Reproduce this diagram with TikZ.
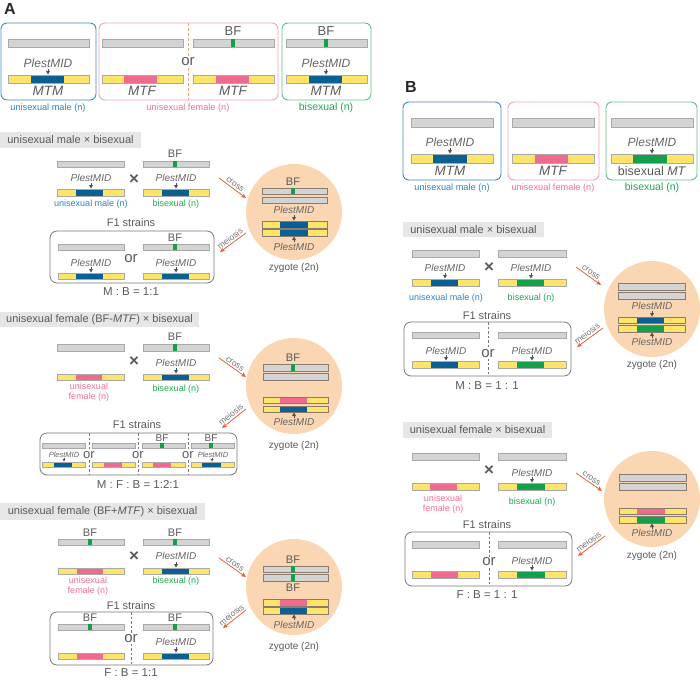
\documentclass[tikz,border=0pt]{standalone}
\usepackage{fontspec}
\setmainfont{Liberation Sans}
\usetikzlibrary{arrows.meta}
\definecolor{cblue}{HTML}{0B5F93}
\definecolor{cbluebox}{HTML}{3A8DC0}
\definecolor{cbluetxt}{HTML}{2D83BF}
\definecolor{cpink}{HTML}{EF6A8D}
\definecolor{cpinkbox}{HTML}{F5A0B5}
\definecolor{cpinktxt}{HTML}{F07094}
\definecolor{cgreen}{HTML}{12A14A}
\definecolor{cgreenbox}{HTML}{5DC081}
\definecolor{cgreentxt}{HTML}{1FA84F}
\definecolor{cyellow}{HTML}{FDE46A}
\definecolor{cgraybar}{HTML}{D4D4D4}
\definecolor{cgrayline}{HTML}{A9A9A9}
\definecolor{czyg}{HTML}{8A7B6E}
\definecolor{ctext}{HTML}{5A5A5A}
\definecolor{cpl}{HTML}{666666}
\definecolor{cmark}{HTML}{505050}
\definecolor{chead}{HTML}{E6E6E6}
\definecolor{cpeach}{HTML}{FBD6B2}
\definecolor{carrow}{HTML}{E8603A}
\definecolor{corange}{HTML}{F2A283}
\definecolor{cbox}{HTML}{777777}
\def\bl{cgrayline}
\newcommand\mGB[4]{\draw[fill=cgraybar, draw=\bl, line width=0.5pt] (#1,#3) rectangle (#2,#4);}
\newcommand\mGBF[5]{\mGB{#1}{#2}{#3}{#4}\fill[cgreen] (#5-1.8,#3+0.3) rectangle (#5+1.8,#4-0.3);}
\newcommand\mYB[7]{\fill[cyellow] (#1,#3) rectangle (#2,#4); \fill[#7] (#5,#3) rectangle (#6,#4); \draw[draw=\bl, line width=0.5pt] (#1,#3) rectangle (#2,#4);}
\newcommand\mTD[2]{\fill[cmark] (#1-2,#2-3.6) -- (#1+2,#2-3.6) -- (#1,#2) -- cycle; \draw[cmark, line width=0.4pt] (#1,#2-5.5) -- (#1,#2-3.4);}
\newcommand\mTDs[2]{\fill[cmark] (#1-1.4,#2-2.6) -- (#1+1.4,#2-2.6) -- (#1,#2) -- cycle; \draw[cmark, line width=0.35pt] (#1,#2-4) -- (#1,#2-2.4);}
\newcommand\mTU[2]{\fill[cmark] (#1-2,#2+3.6) -- (#1+2,#2+3.6) -- (#1,#2) -- cycle; \draw[cmark, line width=0.4pt] (#1,#2+5.5) -- (#1,#2+3.4);}
\begin{document}
\begin{tikzpicture}[x=1pt,y=-1pt,
  fs/.style={font=\fontsize{#1}{#1}\selectfont, inner sep=0pt, text=ctext},
  fstwo/.style={font=\fontsize{9}{10}\selectfont, inner sep=0pt, align=center, text=cpinktxt},
  it/.style={font=\fontsize{#1}{#1}\selectfont\itshape, inner sep=0pt, text=cpl},
  outbox/.style={rounded corners=6pt, line width=0.9pt},
  f1box/.style={draw=cbox, rounded corners=7pt, line width=0.8pt},
  sepline/.style={draw=cbox, dash pattern=on 2.5pt off 2pt, line width=0.6pt},
  arr/.style={draw=carrow, line width=0.8pt, -{Stealth[length=5pt,width=4.5pt]}},
  alab/.style={font=\fontsize{8.5}{8.5}\selectfont, text=ctext!85, inner sep=1.5pt, sloped, above},
  ornode/.style={font=\fontsize{#1}{#1}\selectfont, text=ctext, fill=white, inner sep=1pt},
  xnode/.style={font=\fontsize{17}{17}\selectfont\bfseries, text=ctext, inner sep=0pt},
  panel/.style={font=\fontsize{16}{16}\selectfont\bfseries, text=black!85, inner sep=0pt}
]
\useasboundingbox (0,0) rectangle (700,679);

% ================= PANEL A =================
\node[panel] (lA) at (10,9) {A};
% top boxes
\draw[outbox, draw=cbluebox] (1,23) rectangle (96,100);
\draw[outbox, draw=cpinkbox] (99,23) rectangle (278,100);
\draw[outbox, draw=cgreenbox] (282,23) rectangle (371,100);
\draw[draw=corange, dash pattern=on 3pt off 2pt, line width=0.8pt] (188,23) -- (188,100);
% blue box
\mGB{8}{89}{39}{47}
\node[it=12] (tApl1) at (48,63) {PlestMID}; \mTD{48}{74.6}
\mYB{8}{89}{75}{83}{31}{64}{cblue}
\node[it=13.5, text=ctext] (tAm1) at (48,91) {MTM};
\node[fs=9.2, text=cbluetxt] (tAl1) at (48,108) {unisexual male (n)};
% pink box
\mGB{102}{183}{39}{47}
\mGBF{193}{274}{39}{47}{233}
\node[fs=13] (tAbf1) at (233,31) {BF};
\node[ornode=15] (tAor) at (188,62) {or};
\mYB{102}{183}{75}{83}{124}{157}{cpink}
\mYB{193}{274}{75}{83}{216}{249}{cpink}
\node[it=13.5, text=ctext] (tAf1) at (142,91) {MTF};
\node[it=13.5, text=ctext] (tAf2) at (233,91) {MTF};
\node[fs=9.2, text=cpinktxt] (tAl2) at (188,108) {unisexual female (n)};
% green box
\mGBF{286}{367}{39}{47}{326}
\node[fs=13] (tAbf2) at (326,31) {BF};
\node[it=12] (tApl2) at (326,63) {PlestMID}; \mTD{326}{74.6}
\mYB{286}{367}{75}{83}{309}{342}{cblue}
\node[it=13.5, text=ctext] (tAm2) at (326,91) {MTM};
\node[fs=10.5, text=cgreentxt] (tAl3) at (326,108) {bisexual (n)};

% ---------- A1: unisexual male x bisexual ----------
\fill[chead] (0,132) rectangle (141,148);
\node[fs=11] (a1h) at (70.5,140) {unisexual male × bisexual};
\mGB{57}{124}{161}{167}
\mGBF{143}{209}{161}{167}{175}
\node[fs=11] (a1bf) at (175,154) {BF};
\node[xnode] (a1x) at (134,180) {×};
\node[it=10] (a1p1) at (91,178) {PlestMID}; \mTD{91}{188.6}
\node[it=10] (a1p2) at (176,178) {PlestMID}; \mTD{176}{188.6}
\mYB{57}{124}{189}{196}{76}{103}{cblue}
\mYB{143}{209}{189}{196}{162}{189}{cblue}
\node[fs=9, text=cbluetxt] (a1l1) at (91,204) {unisexual male (n)};
\node[fs=9, text=cgreentxt] (a1l2) at (176,204) {bisexual (n)};
\coordinate (a1c1) at (219,178); \coordinate (a1c2) at (246,198);
\draw[arr] (a1c1) -- node[alab] {cross} (a1c2);
\fill[cpeach] (294,212) circle (48);
\begin{scope}\def\bl{czyg}
\node[fs=11] (a1zbf) at (293,182) {BF};
\mGBF{262}{327}{188}{194}{293}
\mGB{262}{327}{197}{203}
\node[it=10] (a1zp1) at (294,210) {PlestMID}; \mTD{294}{220.6}
\mYB{262}{327}{221}{228}{280}{308}{cblue}
\mYB{262}{327}{229}{236}{280}{308}{cblue}
\mTU{294}{236.4}
\node[it=10] (a1zp2) at (294,247) {PlestMID};
\end{scope}
\node[fs=10] (a1z) at (294,268) {zygote (2n)};
\coordinate (a1m1) at (246,233); \coordinate (a1m2) at (220,252);
\draw[arr] (a1m1) -- node[alab] {meiosis} (a1m2);
\node[fs=11] (a1f1) at (131,223) {F1 strains};
\draw[f1box] (50,231) rectangle (214,283);
\mGB{58}{124}{244}{250}
\mGBF{143}{209}{244}{250}{175}
\node[fs=11] (a1fbf) at (175,238) {BF};
\node[ornode=15] (a1or) at (131,259) {or};
\node[it=10] (a1fp1) at (91,263) {PlestMID}; \mTD{91}{272.6}
\node[it=10] (a1fp2) at (176,263) {PlestMID}; \mTD{176}{272.6}
\mYB{58}{124}{273}{279}{76}{103}{cblue}
\mYB{143}{209}{273}{279}{162}{189}{cblue}
\node[fs=11.5] (a1r) at (131,292) {M : B = 1:1};

% ---------- A2: unisexual female (BF-MTF) x bisexual ----------
\fill[chead] (0,312) rectangle (199,327);
\node[fs=11] (a2h) at (99.5,319.5) {unisexual female (BF-\textit{MTF}) × bisexual};
\mGB{57}{124}{344}{351}
\mGBF{143}{209}{344}{351}{175}
\node[fs=11] (a2bf) at (175,337) {BF};
\node[xnode] (a2x) at (134,362) {×};
\node[it=10] (a2p2) at (176,363) {PlestMID}; \mTD{176}{373.6}
\mYB{57}{124}{374}{380}{76}{102}{cpink}
\mYB{143}{209}{374}{380}{162}{189}{cblue}
\node[fstwo] (a2l1) at (89,392) {unisexual\\female (n)};
\node[fs=9, text=cgreentxt] (a2l2) at (176,389) {bisexual (n)};
\coordinate (a2c1) at (219,358); \coordinate (a2c2) at (246,377);
\draw[arr] (a2c1) -- node[alab] {cross} (a2c2);
\fill[cpeach] (294,386) circle (48);
\begin{scope}\def\bl{czyg}
\node[fs=11] (a2zbf) at (293,358) {BF};
\mGBF{263}{328}{364}{371}{293}
\mGB{263}{328}{373}{380}
\mYB{263}{328}{397}{403}{280}{307}{cpink}
\mYB{263}{328}{406}{412}{280}{307}{cblue}
\mTU{294}{412.4}
\node[it=10] (a2zp) at (294,422) {PlestMID};
\end{scope}
\node[fs=10] (a2z) at (294,446) {zygote (2n)};
\coordinate (a2m1) at (246,409); \coordinate (a2m2) at (222,428);
\draw[arr] (a2m1) -- node[alab] {meiosis} (a2m2);
\node[fs=11] (a2f1) at (137,425) {F1 strains};
\draw[f1box] (40,433) rectangle (237,475);
\draw[sepline] (89,433) -- (89,475);
\draw[sepline] (138,433) -- (138,475);
\draw[sepline] (188,433) -- (188,475);
\mGB{42}{85}{443}{448}
\node[it=7.5] (a2c1p) at (64,455) {PlestMID}; \mTDs{64}{461.6}
\mYB{42}{85}{462}{467}{54}{72}{cblue}
\mGB{92}{135}{443}{448}
\mYB{92}{135}{462}{467}{104}{122}{cpink}
\mGBF{142}{185}{443}{448}{162}
\node[fs=10] (a2c3bf) at (162,438) {BF};
\mYB{142}{185}{462}{467}{153}{171}{cpink}
\mGBF{191}{234}{443}{448}{211}
\node[fs=10] (a2c4bf) at (211,438) {BF};
\node[it=7.5] (a2c4p) at (213,455) {PlestMID}; \mTDs{212}{461.6}
\mYB{191}{234}{462}{467}{202}{221}{cblue}
\node[ornode=13] (a2or1) at (89,455) {or};
\node[ornode=13] (a2or2) at (138,455) {or};
\node[ornode=13] (a2or3) at (188,455) {or};
\node[fs=11.5] (a2r) at (138,484) {M : F : B = 1:2:1};

% ---------- A3: unisexual female (BF+MTF) x bisexual ----------
\fill[chead] (0,503) rectangle (205,520);
\node[fs=11] (a3h) at (102.5,511.5) {unisexual female (BF+\textit{MTF}) × bisexual};
\mGBF{58}{124}{539}{545}{90}
\node[fs=11] (a3bf1) at (90,533) {BF};
\mGBF{143}{209}{539}{545}{175}
\node[fs=11] (a3bf2) at (175,533) {BF};
\node[xnode] (a3x) at (134,557) {×};
\node[it=10] (a3p2) at (176,556) {PlestMID}; \mTD{176}{567.6}
\mYB{58}{124}{568}{574}{77}{103}{cpink}
\mYB{143}{209}{568}{574}{162}{189}{cblue}
\node[fstwo] (a3l1) at (88,586) {unisexual\\female (n)};
\node[fs=9, text=cgreentxt] (a3l2) at (176,581) {bisexual (n)};
\coordinate (a3c1) at (219,558); \coordinate (a3c2) at (246,577);
\draw[arr] (a3c1) -- node[alab] {cross} (a3c2);
\fill[cpeach] (294,587) circle (48);
\begin{scope}\def\bl{czyg}
\node[fs=11] (a3zbf1) at (293,560) {BF};
\mGBF{263}{328}{566}{572}{293}
\mGBF{263}{328}{574}{581}{293}
\node[fs=11] (a3zbf2) at (293,588) {BF};
\mYB{263}{328}{599}{606}{280}{307}{cpink}
\mYB{263}{328}{607}{614}{280}{307}{cblue}
\mTU{294}{614.4}
\node[it=10] (a3zp) at (294,625) {PlestMID};
\end{scope}
\node[fs=10] (a3z) at (294,647) {zygote (2n)};
\coordinate (a3m1) at (246,610); \coordinate (a3m2) at (223,628);
\draw[arr] (a3m1) -- node[alab] {meiosis} (a3m2);
\node[fs=11] (a3f1) at (131,606) {F1 strains};
\draw[f1box] (50,612) rectangle (213,665);
\draw[sepline] (131,612) -- (131,665);
\node[fs=11] (a3fbf1) at (90,618) {BF};
\mGBF{58}{124}{624}{630}{90}
\mYB{58}{124}{653}{659}{77}{103}{cpink}
\node[fs=11] (a3fbf2) at (175,618) {BF};
\mGBF{143}{209}{624}{630}{175}
\node[it=10] (a3fp) at (176,642) {PlestMID}; \mTD{176}{652.6}
\mYB{143}{209}{653}{659}{162}{189}{cblue}
\node[ornode=15] (a3or) at (131,639) {or};
\node[fs=11.5] (a3r) at (131,673) {F : B = 1:1};

% ================= PANEL B =================
\node[panel] (lB) at (411,87) {B};
\draw[outbox, draw=cbluebox] (403,102) rectangle (501,180);
\draw[outbox, draw=cpinkbox] (508,102) rectangle (599,180);
\draw[outbox, draw=cgreenbox] (606,102) rectangle (697,180);
\mGB{411}{493}{118}{127}
\mGB{512}{594}{118}{127}
\mGB{611}{693}{118}{127}
\node[it=12] (tBpl1) at (450,142) {PlestMID}; \mTD{450}{153.6}
\node[it=12] (tBpl2) at (652,142) {PlestMID}; \mTD{652}{153.6}
\mYB{411}{493}{154}{163}{433}{467}{cblue}
\mYB{512}{594}{154}{163}{535}{568}{cpink}
\mYB{611}{693}{154}{163}{633}{667}{cgreen}
\node[it=13.5, text=ctext] (tBm) at (450,171) {MTM};
\node[it=13.5, text=ctext] (tBf) at (553,171) {MTF};
\node[fs=12.5] (tBb) at (652,171) {bisexual \textit{MT}};
\node[fs=9.2, text=cbluetxt] (tBl1) at (452,188) {unisexual male (n)};
\node[fs=9.2, text=cpinktxt] (tBl2) at (553,188) {unisexual female (n)};
\node[fs=10.5, text=cgreentxt] (tBl3) at (652,188) {bisexual (n)};

% ---------- B1 ----------
\fill[chead] (403,222) rectangle (544,237);
\node[fs=11] (b1h) at (473.5,229.5) {unisexual male × bisexual};
\mGB{412}{479}{250}{257}
\mGB{498}{566}{250}{257}
\node[xnode] (b1x) at (489,268) {×};
\node[it=10] (b1p1) at (445,268) {PlestMID}; \mTD{445}{278.6}
\node[it=10] (b1p2) at (531,268) {PlestMID}; \mTD{531}{278.6}
\mYB{412}{479}{279}{286}{431}{458}{cblue}
\mYB{498}{566}{279}{286}{517}{544}{cgreen}
\node[fs=9, text=cbluetxt] (b1l1) at (446,298) {unisexual male (n)};
\node[fs=9, text=cgreentxt] (b1l2) at (531,298) {bisexual (n)};
\coordinate (b1c1) at (576,267); \coordinate (b1c2) at (601,285);
\draw[arr] (b1c1) -- node[alab] {cross} (b1c2);
\fill[cpeach] (652,309) circle (48);
\begin{scope}\def\bl{czyg}
\mGB{618}{685}{283}{290}
\mGB{618}{685}{292}{299}
\node[it=10] (b1zp1) at (652,306) {PlestMID}; \mTD{652}{316.6}
\mYB{618}{685}{317}{323}{637}{664}{cblue}
\mYB{618}{685}{325}{332}{637}{664}{cgreen}
\mTU{652}{332.4}
\node[it=10] (b1zp2) at (652,342) {PlestMID};
\end{scope}
\node[fs=10] (b1z) at (652,365) {zygote (2n)};
\coordinate (b1m1) at (603,328); \coordinate (b1m2) at (577,347);
\draw[arr] (b1m1) -- node[alab] {meiosis} (b1m2);
\node[fs=11] (b1f1) at (487,316) {F1 strains};
\draw[f1box] (404,322) rectangle (571,376);
\draw[sepline] (488,322) -- (488,376);
\mGB{412}{479}{332}{338}
\mGB{498}{566}{332}{338}
\node[it=10] (b1fp1) at (446,351) {PlestMID}; \mTD{446}{360.6}
\node[it=10] (b1fp2) at (532,351) {PlestMID}; \mTD{532}{360.6}
\mYB{412}{479}{361}{368}{431}{458}{cblue}
\mYB{498}{566}{361}{368}{517}{544}{cgreen}
\node[ornode=15] (b1or) at (488,354) {or};
\node[fs=11.5] (b1r) at (487,386) {M : B = 1 : 1};

% ---------- B2 ----------
\fill[chead] (403,422) rectangle (552,438);
\node[fs=11] (b2h) at (477.5,430) {unisexual female × bisexual};
\mGB{412}{479}{453}{460}
\mGB{498}{566}{453}{460}
\node[xnode] (b2x) at (489,471) {×};
\node[it=10] (b2p2) at (532,473) {PlestMID}; \mTD{532}{482.6}
\mYB{412}{479}{483}{490}{430}{457}{cpink}
\mYB{498}{566}{483}{490}{517}{545}{cgreen}
\node[fstwo] (b2l1) at (443,504) {unisexual\\female (n)};
\node[fs=9, text=cgreentxt] (b2l2) at (532,502) {bisexual (n)};
\coordinate (b2c1) at (576,473); \coordinate (b2c2) at (602,491);
\draw[arr] (b2c1) -- node[alab] {cross} (b2c2);
\fill[cpeach] (652,499) circle (48);
\begin{scope}\def\bl{czyg}
\mGB{619}{686}{474}{481}
\mGB{619}{686}{483}{490}
\mYB{619}{686}{508}{514}{637}{665}{cpink}
\mYB{619}{686}{516}{523}{637}{665}{cgreen}
\mTU{652}{523.4}
\node[it=10] (b2zp) at (652,533) {PlestMID};
\end{scope}
\node[fs=10] (b2z) at (652,556) {zygote (2n)};
\coordinate (b2m1) at (605,536); \coordinate (b2m2) at (578,556);
\draw[arr] (b2m1) -- node[alab] {meiosis} (b2m2);
\node[fs=11] (b2f1) at (487,525) {F1 strains};
\draw[f1box] (405,532) rectangle (572,586);
\draw[sepline] (489,532) -- (489,586);
\mGB{412}{479}{541}{548}
\mGB{498}{566}{541}{548}
\node[it=10] (b2fp) at (532,561) {PlestMID}; \mTD{532}{570.6}
\mYB{412}{479}{571}{578}{431}{458}{cpink}
\mYB{498}{566}{571}{578}{517}{545}{cgreen}
\node[ornode=15] (b2or) at (489,562) {or};
\node[fs=11.5] (b2r) at (487,595) {F : B = 1 : 1};
\end{tikzpicture}
\end{document}
